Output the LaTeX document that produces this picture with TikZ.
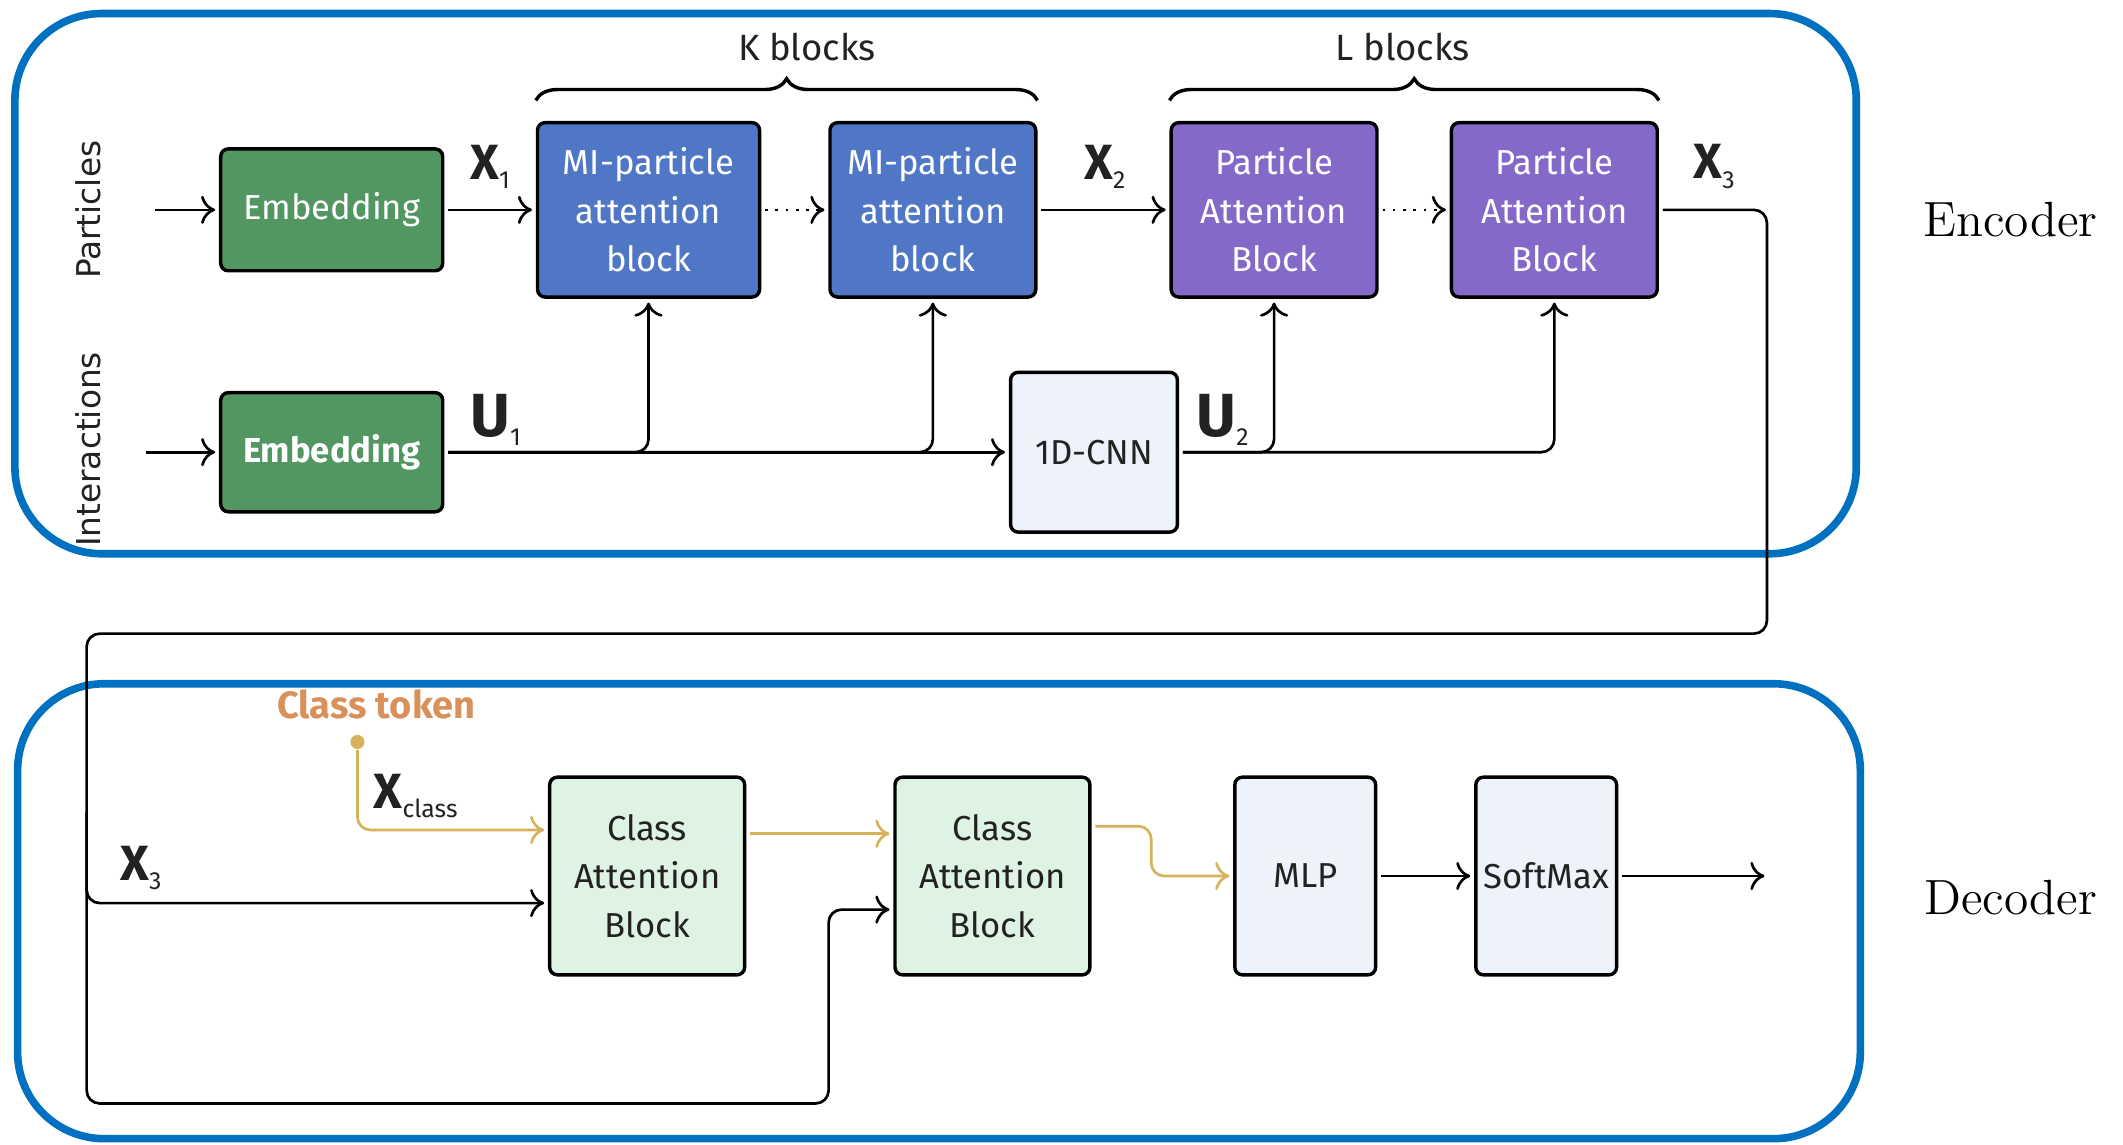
\documentclass[tikz,border=0pt]{standalone}
\usepackage{fontspec}
\usepackage{xcolor}
\usepackage{tikz}
\usetikzlibrary{
  arrows.meta,
  positioning,
  calc,
  decorations.pathreplacing,
}

\newfontfamily\blockfont{Fira Sans}
\newfontfamily\sidefont{DejaVu Sans}

\definecolor{embgreen}{RGB}{82,150,98}
\definecolor{miblue}{RGB}{80,119,198}
\definecolor{papurple}{RGB}{132,105,200}
\definecolor{lightbg}{RGB}{238,243,251}
\definecolor{cagreen}{RGB}{222,243,228}
\definecolor{gold}{RGB}{214,178,92}
\definecolor{tokorange}{RGB}{217,145,92}
\definecolor{frameblue}{RGB}{0,112,192}
\definecolor{textdark}{RGB}{34,34,34}

% bold symbol with a lowered index
\newcommand{\vsym}[3]{{\fontsize{#3}{#3}\selectfont\bfseries #1}\raisebox{-0.5ex}{\fontsize{6.5}{6.5}\selectfont #2}}

\begin{document}
\begin{tikzpicture}[
  x=0.125mm, y=-0.125mm,
  every node/.style={font=\blockfont\fontsize{9.1}{12.7}\selectfont},
  block/.style={
    rectangle, draw, line width=0.9pt, rounded corners=2pt,
    align=center, inner sep=0pt,
  },
  embed/.style={block, fill=embgreen, text=white, minimum width=2.05cm},
  miblock/.style={block, fill=miblue, text=white, minimum height=1.61cm},
  pblock/.style={block, fill=papurple, text=white, minimum width=1.9cm, minimum height=1.61cm},
  lightblock/.style={block, fill=lightbg, text=textdark},
  cblock/.style={block, fill=cagreen, text=textdark, minimum width=1.8cm, minimum height=1.825cm},
  conn/.style={
    -{To[length=1.3mm, width=2.6mm]}, line width=0.7pt,
    rounded corners=0.12cm, shorten >=1pt, shorten <=1pt,
  },
  goldconn/.style={conn, draw=gold},
  dots/.style={conn, dotted},
  frame/.style={draw=frameblue, line width=2pt, rounded corners=0.8cm},
  sym/.style={text=textdark, inner sep=0pt},
  side/.style={font=\sidefont\fontsize{8.6}{10}\selectfont, text=textdark, rotate=90},
  brace/.style={decorate, decoration={brace, amplitude=0.2cm}, line width=0.9pt},
  lbl/.style={text=textdark, font=\blockfont\fontsize{9.6}{12}\selectfont},
  part/.style={font=\rmfamily\fontsize{13}{15}\selectfont},
]
  \useasboundingbox (0,0) rectangle (1568,845);

  % Frames
  \draw[frame] (11,10) rectangle (1371,409);
  \draw[frame] (13,505) rectangle (1374,841);
  \node[part] (enc) at (1485,162) {Encoder};
  \node[part] (dec) at (1485,663) {Decoder};

  % Particles row
  \node[side] (particles) at (65,155) {Particles};
  \node[embed, minimum height=1.125cm] (emb1) at (245,155) {Embedding};
  \node[miblock, minimum width=2.05cm] (mi1) at (479,155) {MI-particle\\attention\\block};
  \node[miblock, minimum width=1.9cm] (mi2) at (689,155) {MI-particle\\attention\\block};
  \node[pblock] (pab1) at (941,155) {Particle\\Attention\\Block};
  \node[pblock] (pab2) at (1148,155) {Particle\\Attention\\Block};
  \coordinate (pin) at (112,155);

  % Interactions row
  \node[side] (interactions) at (65,332) {Interactions};
  \node[embed, minimum height=1.1cm] (emb2) at (245,334) {\bfseries Embedding};
  \node[lightblock, minimum width=1.54cm, minimum height=1.475cm] (cnn) at (808,334) {1D-CNN};
  \coordinate (iin) at (105,334);

  % Symbols
  \node[sym] (x1) at (362,123) {\vsym{X}{1}{13}};
  \node[sym] (x2) at (816,123) {\vsym{X}{2}{13}};
  \node[sym] (x3) at (1266,123) {\vsym{X}{3}{13}};
  \node[sym] (u1) at (366,310) {\vsym{U}{1}{16}};
  \node[sym] (u2) at (903,310) {\vsym{U}{2}{16}};

  % Braces
  \draw[brace] ([yshift=0.19cm]mi1.north west) -- ([yshift=0.19cm]mi2.north east);
  \draw[brace] ([yshift=0.19cm]pab1.north west) -- ([yshift=0.19cm]pab2.north east);
  \node[lbl] (kb) at (596,35) {K blocks};
  \node[lbl] (lb) at (1036,35) {L blocks};

  % Encoder connectors
  \draw[conn] (pin) -- (emb1);
  \draw[conn] (emb1) -- (mi1);
  \draw[dots] (mi1) -- (mi2);
  \draw[conn] (mi2) -- (pab1);
  \draw[dots] (pab1) -- (pab2);
  \draw[conn] (iin) -- (emb2);
  \draw[conn] (emb2) -- (cnn);
  \draw[conn] (emb2.east) -| (mi1.south);
  \draw[conn] (emb2.east) -| (mi2.south);
  \draw[conn] (cnn.east) -| (pab1.south);
  \draw[conn] (cnn.east) -| (pab2.south);

  % Decoder
  \node[cblock] (cab1) at (478,647) {Class\\Attention\\Block};
  \node[cblock] (cab2) at (733,647) {Class\\Attention\\Block};
  \node[lightblock, minimum width=1.3cm, minimum height=1.825cm] (mlp) at (964,647) {MLP};
  \node[lightblock, minimum width=1.3cm, minimum height=1.825cm] (soft) at (1142,647) {SoftMax};
  \node[circle, fill=gold, inner sep=0pt, minimum size=0.13cm] (tok) at (264,548) {};
  \node[text=tokorange, font=\blockfont\bfseries\fontsize{10}{12}\selectfont] (ctok) at (278,520) {Class token};
  \node[sym] (xcls) at (307,588) {\vsym{X}{class}{13}};
  \node[sym] (x3d) at (104,641) {\vsym{X}{3}{13}};
  \coordinate (out) at (1306,647);

  % X3 loop from encoder to decoder
  \coordinate (loopR) at (1305,468);
  \coordinate (loopL) at (64,468);
  \coordinate (split) at (64,600);
  \coordinate (loopB) at (612,815);
  \draw[conn] (pab2.east) -| (loopR) -- (loopL) |- ([yshift=-0.25cm]cab1.west);
  \draw[conn, shorten <=0pt] (split) |- (loopB) |- ([yshift=-0.31cm]cab2.west);

  % Decoder connectors
  \draw[goldconn, shorten <=0pt] (tok) |- ([yshift=0.425cm]cab1.west);
  \draw[goldconn] ([yshift=0.39cm]cab1.east) -- ([yshift=0.39cm]cab2.west);
  \draw[goldconn] ([yshift=0.46cm]cab2.east) -- ++(0.55cm,0) |- (mlp.west);
  \draw[conn] (mlp) -- (soft);
  \draw[conn] (soft) -- (out);

\end{tikzpicture}
\end{document}
